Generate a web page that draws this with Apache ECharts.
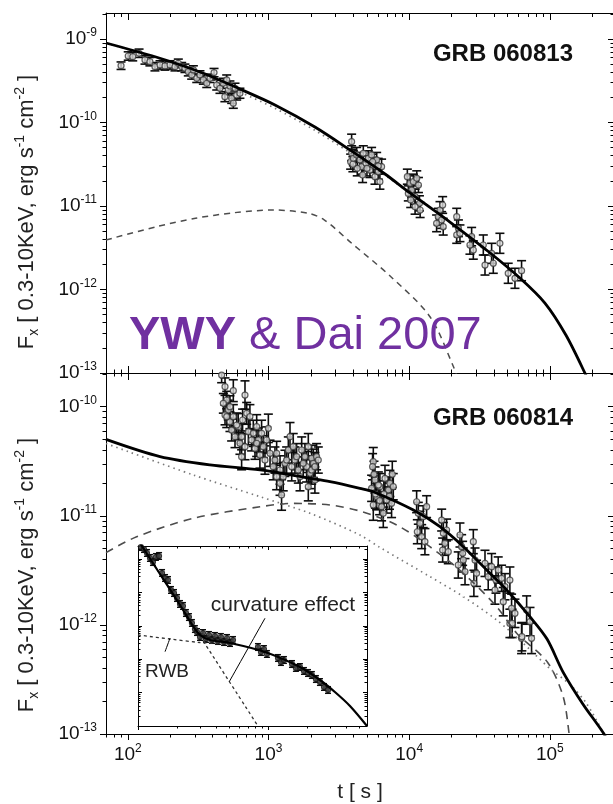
<!DOCTYPE html>
<html>
<head>
<meta charset="utf-8">
<title>GRB 060813 / GRB 060814 X-ray afterglows</title>
<script src="https://cdn.jsdelivr.net/npm/echarts@6/dist/echarts.min.js"></script>
<style>
  html, body { margin: 0; padding: 0; background: #fff; }
  #chart { width: 613px; height: 804px; }
</style>
</head>
<body>
<div id="chart"></div>
<script>
// All values are log10: time in s, flux in erg s^-1 cm^-2, error bar half-widths in dex.

// ---- axis ranges and tick labels (log10) ----
const timeRange = [1.845, 5.456];
const fluxRangeTop = [-13, -8.689];
const fluxRangeBottom = [-13, -9.691];
const timeTickExps = [2, 3, 4, 5];
const fluxTickExpsTop = [-13, -12, -11, -10, -9];
const fluxTickExpsBottom = [-13, -12, -11, -10];

// ---- GRB 060813 XRT data ----
const grb813LogT = [
  1.952, 2.003, 2.035, 2.080, 2.122, 2.157, 2.193, 2.229, 2.264, 2.300, 2.335, 2.359, 2.383, 2.406, 2.430,
  2.454, 2.466, 2.490, 2.513, 2.537, 2.561, 2.584, 2.613, 2.632, 2.655, 2.679, 2.703, 2.714, 2.690, 2.738,
  2.750, 2.774, 2.797, 2.762, 2.726,
  3.591, 3.591, 3.584, 3.603, 3.627, 3.650, 3.662, 3.674, 3.693, 3.709, 3.721, 3.733, 3.745, 3.757, 3.769,
  3.781, 3.792, 3.804, 3.669, 3.631, 3.600, 3.700, 3.740, 3.780,
  3.987, 4.006, 4.018, 3.994, 4.030, 4.042, 4.054, 4.066, 4.073, 4.078, 4.011, 4.042,
  4.219, 4.207, 4.231, 4.242, 4.195, 4.238,
  4.338, 4.350, 4.338, 4.361,
  4.444, 4.456, 4.432,
  4.527, 4.539, 4.586, 4.598, 4.645,
  4.704, 4.752, 4.799
];
const grb813LogF = [
  -9.320, -9.204, -9.212, -9.171, -9.251, -9.272, -9.332, -9.311, -9.323, -9.311, -9.332, -9.291, -9.332, -9.351, -9.392,
  -9.431, -9.371, -9.471, -9.431, -9.491, -9.531, -9.471, -9.403, -9.551, -9.591, -9.531, -9.491, -9.611, -9.691, -9.711,
  -9.770, -9.671, -9.650, -9.590, -9.563,
  -10.230, -10.369, -10.469, -10.429, -10.389, -10.449, -10.529, -10.369, -10.489, -10.429, -10.569, -10.389, -10.509, -10.649, -10.449,
  -10.589, -10.709, -10.529, -10.629, -10.549, -10.500, -10.550, -10.470, -10.520,
  -10.649, -10.729, -10.809, -10.849, -10.709, -10.889, -10.669, -10.749, -10.968, -11.048, -10.928, -11.008,
  -11.048, -11.128, -11.168, -11.248, -11.208, -10.988,
  -11.128, -11.267, -11.347, -11.327,
  -11.367, -11.527, -11.467,
  -11.467, -11.707, -11.567, -11.686, -11.447,
  -11.806, -11.866, -11.775
];
const grb813Err = [
  0.045, 0.05, 0.05, 0.05, 0.05, 0.05, 0.05, 0.05, 0.05, 0.05, 0.05, 0.05, 0.05, 0.05, 0.05,
  0.05, 0.05, 0.05, 0.05, 0.05, 0.05, 0.05, 0.05, 0.06, 0.06, 0.06, 0.06, 0.06, 0.06, 0.06,
  0.06, 0.06, 0.06, 0.06, 0.06,
  0.09, 0.09, 0.09, 0.09, 0.09, 0.09, 0.09, 0.09, 0.09, 0.09, 0.09, 0.09, 0.09, 0.09, 0.09,
  0.09, 0.09, 0.09, 0.09, 0.09, 0.09, 0.09, 0.09, 0.09,
  0.09, 0.09, 0.09, 0.09, 0.09, 0.09, 0.09, 0.09, 0.09, 0.09, 0.09, 0.09,
  0.10, 0.10, 0.10, 0.10, 0.10, 0.10,
  0.10, 0.10, 0.10, 0.10,
  0.11, 0.11, 0.11,
  0.12, 0.12, 0.12, 0.12, 0.12,
  0.12, 0.12, 0.12
];

// ---- GRB 060813 model curves ----
const fit813LogT = [1.845, 2.200, 2.513, 2.797, 3.046, 3.330, 3.579, 3.828, 4.006, 4.290, 4.567, 4.787, 4.965, 5.114, 5.249, 5.300];
const fit813Total = [-9.048, -9.216, -9.395, -9.599, -9.790, -10.054, -10.329, -10.617, -10.844, -11.192, -11.551, -11.862, -12.162, -12.545, -13.0, -13.2];
const fit813Forward = [-9.050, -9.224, -9.410, -9.635, -9.830, -10.095, -10.360, -10.632, -10.850, -11.194, -11.552, -11.862, -12.162, -12.545, -13.0, -13.2];
const fit813ReverseT = [1.845, 2.204, 2.481, 2.759, 3.037, 3.286, 3.398, 3.592, 3.870, 4.148, 4.315, 4.350];
const fit813Reverse = [-11.407, -11.248, -11.147, -11.080, -11.048, -11.088, -11.168, -11.447, -11.847, -12.326, -12.925, -13.1];

// ---- GRB 060814 XRT data ----
const grb814LogT = [
  2.667, 2.691, 2.703, 2.714, 2.691, 2.750, 2.726, 2.738, 2.762, 2.785, 2.797, 2.809, 2.833, 2.845, 2.857,
  2.880, 2.904, 2.928, 2.939, 2.963, 2.999, 3.011, 3.034, 3.058, 3.082, 3.093, 3.117, 3.141, 3.153, 3.176,
  3.188, 3.212, 3.224, 3.236, 3.259, 3.271, 3.283, 3.295, 3.307, 3.319, 3.330, 3.342, 3.058, 2.816, 2.916,
  2.679, 2.703, 2.726, 2.750, 2.774, 2.809, 2.833, 2.868, 2.892, 2.916, 2.951, 2.975, 2.987, 3.046, 3.082,
  3.105, 3.129, 3.165, 3.200, 3.247, 3.283, 3.307, 3.330, 3.354,
  3.745, 3.740, 3.757, 3.733, 3.745, 3.769, 3.792, 3.804, 3.816, 3.828, 3.852, 3.863, 3.875, 3.887, 3.840, 3.781,
  3.750, 3.760, 3.790, 3.820, 3.860, 3.880,
  4.053, 4.065, 4.077, 4.089, 4.100, 4.112, 4.058, 4.124,
  4.231, 4.243, 4.254, 4.266, 4.278, 4.238,
  4.361, 4.373, 4.385, 4.349, 4.397, 4.380,
  4.456, 4.468, 4.479, 4.460,
  4.539, 4.562, 4.586, 4.610, 4.633, 4.657, 4.669, 4.716, 4.617, 4.681,
  4.728, 4.752, 4.716, 4.799, 4.835, 4.859, 4.870, 4.732, 4.801
];
const grb814LogF = [
  -9.710, -9.816, -9.939, -10.030, -10.076, -9.853, -10.137, -10.214, -10.275, -10.183, -10.336, -10.458, -9.893, -10.061, -10.229,
  -10.305, -10.382, -10.305, -10.443, -10.366, -10.198, -10.427, -10.550, -10.641, -10.702, -10.809, -10.519, -10.397, -10.275, -10.366,
  -10.489, -10.580, -10.641, -10.397, -10.458, -10.550, -10.733, -10.611, -10.473, -10.519, -10.672, -10.458, -10.427, -10.122, -10.183,
  -9.969, -10.091, -10.000, -10.091, -10.168, -10.275, -10.366, -10.091, -10.244, -10.336, -10.244, -10.489, -10.305, -10.489, -10.580,
  -10.641, -10.489, -10.550, -10.458, -10.519, -10.366, -10.580, -10.550, -10.489,
  -10.504, -10.550, -10.672, -10.748, -10.901, -10.825, -10.733, -10.916, -10.977, -10.657, -10.764, -10.703, -10.886, -10.733, -10.855, -10.718,
  -10.620, -10.800, -10.860, -10.800, -10.820, -10.620,
  -10.871, -10.977, -11.069, -11.191, -11.008, -11.237, -11.146, -10.916,
  -11.039, -11.161, -11.252, -11.130, -11.329, -11.314,
  -11.176, -11.283, -11.405, -11.451, -11.512, -11.344,
  -11.237, -11.405, -11.527, -11.619,
  -11.436, -11.558, -11.466, -11.680, -11.497, -11.573, -11.787, -11.589, -11.589, -11.650,
  -11.848, -11.894, -11.986, -12.123, -11.864, -11.970, -12.123, -11.986, -12.108
];
const grb814Err = [
  0.07, 0.08, 0.08, 0.09, 0.09, 0.10, 0.09, 0.10, 0.10, 0.12, 0.10, 0.12, 0.13, 0.10, 0.12,
  0.10, 0.10, 0.11, 0.12, 0.10, 0.13, 0.12, 0.12, 0.12, 0.11, 0.14, 0.12, 0.12, 0.13, 0.12,
  0.12, 0.12, 0.13, 0.12, 0.12, 0.14, 0.13, 0.14, 0.12, 0.13, 0.12, 0.12, 0.11, 0.10, 0.11,
  0.09, 0.10, 0.10, 0.11, 0.11, 0.12, 0.12, 0.11, 0.12, 0.12, 0.12, 0.13, 0.12, 0.12, 0.13,
  0.13, 0.12, 0.13, 0.12, 0.13, 0.12, 0.13, 0.13, 0.12,
  0.13, 0.12, 0.12, 0.12, 0.14, 0.12, 0.12, 0.13, 0.13, 0.12, 0.12, 0.12, 0.13, 0.12, 0.12, 0.12,
  0.12, 0.13, 0.13, 0.12, 0.12, 0.12,
  0.10, 0.10, 0.11, 0.11, 0.10, 0.12, 0.11, 0.10,
  0.10, 0.10, 0.11, 0.10, 0.11, 0.11,
  0.11, 0.11, 0.11, 0.12, 0.12, 0.11,
  0.11, 0.11, 0.12, 0.12,
  0.12, 0.12, 0.12, 0.13, 0.12, 0.12, 0.13, 0.12, 0.12, 0.12,
  0.13, 0.13, 0.13, 0.14, 0.13, 0.13, 0.14, 0.13, 0.13
];

// ---- GRB 060814 model curves ----
const fit814TotalT = [1.845, 2.229, 2.584, 2.940, 3.295, 3.437, 3.650, 3.745, 4.030, 4.219, 4.385, 4.551, 4.693, 4.858, 4.980, 5.093, 5.232, 5.385, 5.420];
const fit814Total = [-10.300, -10.458, -10.534, -10.580, -10.656, -10.687, -10.748, -10.779, -10.947, -11.100, -11.283, -11.497, -11.680, -11.925, -12.130, -12.430, -12.720, -13.0, -13.1];
const fit814ForwardT = [1.845, 2.466, 2.940, 3.295, 3.650, 3.792, 4.147, 4.385, 4.622, 4.811, 5.000, 5.146, 5.260, 5.385, 5.420];
const fit814Forward = [-10.337, -10.626, -10.825, -10.977, -11.176, -11.290, -11.557, -11.741, -11.955, -12.169, -12.400, -12.550, -12.720, -13.0, -13.1];
const fit814ReverseT = [1.845, 2.063, 2.466, 2.940, 3.176, 3.437, 3.660, 3.911, 4.147, 4.385, 4.622, 4.764, 4.982, 5.093, 5.137, 5.150];
const fit814Reverse = [-11.337, -11.192, -11.023, -10.917, -10.886, -10.901, -10.960, -11.084, -11.283, -11.527, -11.833, -12.076, -12.340, -12.650, -13.0, -13.2];

// ---- inset: early GRB 060814 light curve (log10 t, log10 count rate) ----
const insetRangeT = [2.0, 3.762];
const insetRangeR = [-2.0, 3.389];
const insetLogT = [
  2.023, 2.046, 2.069, 2.092, 2.115, 2.138, 2.162, 2.185, 2.208, 2.231, 2.254, 2.277, 2.300, 2.323, 2.346,
  2.369, 2.392, 2.415, 2.438,
  2.454, 2.477, 2.500, 2.523, 2.546, 2.569, 2.592, 2.615, 2.638, 2.662, 2.685, 2.708, 2.731,
  2.923, 2.946, 2.969, 2.992, 3.077, 3.100, 3.123,
  3.185, 3.215, 3.246, 3.277, 3.308, 3.338, 3.369, 3.400, 3.431, 3.462
];
const insetLogR = [
  3.359, 3.299, 3.180, 3.030, 2.910, 3.060, 3.090, 2.581, 2.431, 2.371, 2.072, 1.982, 1.832, 1.653, 1.593,
  1.383, 1.263, 1.084, 0.904,
  0.814, 0.665, 0.784, 0.605, 0.725, 0.575, 0.695, 0.545, 0.665, 0.515, 0.635, 0.485, 0.575,
  0.365, 0.216, 0.305, 0.156, 0.036, -0.084, -0.024,
  -0.144, -0.263, -0.234, -0.353, -0.413, -0.473, -0.593, -0.683, -0.832, -0.922
];
const insetErr = 0.1;
const insetTotalT = [2.000, 2.169, 2.323, 2.423, 2.477, 2.554, 2.708, 2.977, 3.246, 3.400, 3.515, 3.631, 3.762];
const insetTotal = [3.569, 2.551, 1.623, 0.994, 0.725, 0.575, 0.485, 0.216, -0.234, -0.623, -0.982, -1.401, -2.0];
const insetCurvatureT = [2.000, 2.923];
const insetCurvature = [3.569, -2.0];
const insetRwbT = [2.000, 2.246, 2.477, 2.708];
const insetRwb = [0.725, 0.605, 0.500, 0.450];
const curvaturePointer = [[2.977, 1.225], [2.702, -0.674]];
const rwbPointer = [[2.246, 0.626], [2.208, 0.225]];

// ---------------------------------------------------------------
const FONT = "'Liberation Sans', Arial, Helvetica, sans-serif";
const INK = '#111';

function decadeMinors(range) {
  const out = [];
  for (let n = Math.floor(range[0]) - 1; n <= Math.ceil(range[1]); n++) {
    for (let k = 2; k <= 9; k++) {
      const v = n + Math.log10(k);
      if (v > range[0] && v < range[1]) out.push(v);
    }
  }
  return out;
}
function decadeMajors(range) {
  const out = [];
  for (let n = Math.ceil(range[0]); n <= Math.floor(range[1]); n++) out.push(n);
  return out;
}

function powerLabel(margin) {
  return {
    margin: margin,
    color: INK,
    fontFamily: FONT,
    showMinLabel: true,
    showMaxLabel: true,
    formatter: function (v) { return '{m|10}{e|' + Math.round(v) + '}'; },
    rich: {
      m: { fontSize: 19, lineHeight: 24, fontFamily: FONT, color: INK },
      e: { fontSize: 12, lineHeight: 12, verticalAlign: 'top', fontFamily: FONT, color: INK }
    }
  };
}

function tickAxis(grid, pos, range, values, len, inside, showLine, label, labelValues) {
  const ax = {
    type: 'value', gridIndex: grid, position: pos, min: range[0], max: range[1],
    axisLine: { show: showLine, onZero: false, lineStyle: { color: '#000', width: 1 } },
    axisTick: { show: values.length > 0, inside: inside, length: len, customValues: values,
                lineStyle: { color: '#000', width: 1 } },
    axisLabel: { show: false },
    splitLine: { show: false },
    minorTick: { show: false },
    minorSplitLine: { show: false },
    axisPointer: { show: false }
  };
  if (label) ax.axisLabel = Object.assign({ show: true, customValues: labelValues }, label);
  return ax;
}

const xAxes = [];
const yAxes = [];
function panelAxes(g, xr, yr, o) {
  const xMaj = o.xMajors || decadeMajors(xr);
  const yMaj = o.yMajors || decadeMajors(yr);
  const xMin = decadeMinors(xr);
  const yMin = decadeMinors(yr);
  const xi = xAxes.length;
  xAxes.push(tickAxis(g, 'bottom', xr, xMaj, o.bottom[0], o.bottomInside, true, o.xLabel, xMaj));
  xAxes.push(tickAxis(g, 'bottom', xr, xMin, o.bottom[1], o.bottomInside, false));
  xAxes.push(tickAxis(g, 'top', xr, xMaj, o.top[0], true, true));
  xAxes.push(tickAxis(g, 'top', xr, xMin, o.top[1], true, false));
  const yi = yAxes.length;
  yAxes.push(tickAxis(g, 'left', yr, yMaj, o.left[0], o.leftInside, true, o.yLabel, yMaj));
  yAxes.push(tickAxis(g, 'left', yr, yMin, o.left[1], o.leftInside, false));
  yAxes.push(tickAxis(g, 'right', yr, yMaj, o.right[0], true, true));
  yAxes.push(tickAxis(g, 'right', yr, yMin, o.right[1], true, false));
  return { x: xi, y: yi };
}

const topAx = panelAxes(0, timeRange, fluxRangeTop, {
  xMajors: timeTickExps, yMajors: fluxTickExpsTop,
  bottom: [7, 3.5], bottomInside: true, top: [7, 4],
  left: [6, 3.5], leftInside: false, right: [6, 3.5],
  yLabel: powerLabel(9)
});
const botAx = panelAxes(1, timeRange, fluxRangeBottom, {
  xMajors: timeTickExps, yMajors: fluxTickExpsBottom,
  bottom: [6, 3.5], bottomInside: false, top: [7, 3.5],
  left: [6, 3.5], leftInside: false, right: [6, 3.5],
  xLabel: powerLabel(9), yLabel: powerLabel(9)
});
const insAx = panelAxes(2, insetRangeT, insetRangeR, {
  bottom: [4, 2.5], bottomInside: false, top: [4, 2.5],
  left: [4, 2.5], leftInside: true, right: [4, 2.5]
});

function zip(a, b, c) {
  return a.map(function (v, i) {
    if (c === undefined) return [v, b[i]];
    return [v, b[i], Array.isArray(c) ? c[i] : c];
  });
}

function errorBars(ax, data, cap, width) {
  return {
    type: 'custom', xAxisIndex: ax.x, yAxisIndex: ax.y, clip: true, z: 2, silent: true,
    encode: { x: 0, y: 1 },
    data: data,
    renderItem: function (params, api) {
      const x = api.value(0), y = api.value(1), e = api.value(2);
      const lo = api.coord([x, y - e]);
      const hi = api.coord([x, y + e]);
      const st = { stroke: '#0c0c0c', lineWidth: width };
      return {
        type: 'group',
        children: [
          { type: 'line', shape: { x1: lo[0], y1: lo[1], x2: hi[0], y2: hi[1] }, style: st },
          { type: 'line', shape: { x1: lo[0] - cap, y1: lo[1], x2: lo[0] + cap, y2: lo[1] }, style: st },
          { type: 'line', shape: { x1: hi[0] - cap, y1: hi[1], x2: hi[0] + cap, y2: hi[1] }, style: st }
        ]
      };
    }
  };
}

function points(ax, data, size, fill, stroke) {
  return {
    type: 'scatter', xAxisIndex: ax.x, yAxisIndex: ax.y, z: 3, silent: true,
    symbol: 'circle', symbolSize: size, data: data,
    itemStyle: { color: fill, borderColor: stroke, borderWidth: 1.2 }
  };
}

function curve(ax, data, style, z) {
  return {
    type: 'line', xAxisIndex: ax.x, yAxisIndex: ax.y, z: z || 4, silent: true,
    data: data, showSymbol: false, symbol: 'none', smooth: 0.3,
    lineStyle: style
  };
}

const solid = { color: '#000', width: 2.8, type: 'solid' };
const dotted = { color: '#7a7a7a', width: 1.7, type: [1.5, 4] };
const dashed = { color: '#4d4d4d', width: 1.5, type: [6, 5] };

const series = [
  // GRB 060813
  errorBars(topAx, zip(grb813LogT, grb813LogF, grb813Err), 4.5, 1.6),
  points(topAx, zip(grb813LogT, grb813LogF), 6, '#d9d9d9', '#3a3a3a'),
  curve(topAx, zip(fit813ReverseT, fit813Reverse), dashed),
  curve(topAx, zip(fit813LogT, fit813Forward), dotted),
  curve(topAx, zip(fit813LogT, fit813Total), solid, 5),
  // GRB 060814
  errorBars(botAx, zip(grb814LogT, grb814LogF, grb814Err), 4.5, 1.6),
  points(botAx, zip(grb814LogT, grb814LogF), 6, '#d9d9d9', '#3a3a3a'),
  curve(botAx, zip(fit814ReverseT, fit814Reverse), { color: '#4d4d4d', width: 1.6, type: [8, 6] }),
  curve(botAx, zip(fit814ForwardT, fit814Forward), dotted),
  curve(botAx, zip(fit814TotalT, fit814Total), solid, 5),
  // inset
  errorBars(insAx, zip(insetLogT, insetLogR, insetErr), 3, 1.4),
  points(insAx, zip(insetLogT, insetLogR), 5, '#444', '#111'),
  curve(insAx, zip(insetCurvatureT, insetCurvature), { color: '#333', width: 1.3, type: [3, 3] }),
  curve(insAx, zip(insetRwbT, insetRwb), { color: '#333', width: 1.3, type: [3, 3] }),
  curve(insAx, zip(insetTotalT, insetTotal), { color: '#000', width: 2.2, type: 'solid' }, 5),
  curve(insAx, curvaturePointer, { color: '#000', width: 1, type: 'solid' }, 6),
  curve(insAx, rwbPointer, { color: '#000', width: 1, type: 'solid' }, 6)
];

const titleRich = {
  a: { fontSize: 22, lineHeight: 28, fontFamily: FONT, fill: '#222' },
  sub: { fontSize: 14, lineHeight: 18, verticalAlign: 'bottom', fontFamily: FONT, fill: '#222' },
  sup: { fontSize: 14, lineHeight: 14, verticalAlign: 'top', fontFamily: FONT, fill: '#222' }
};
const fluxTitle = '{a|F}{sub|x}{a| [ 0.3-10KeV, erg s}{sup|-1}{a| cm}{sup|-2}{a| ]}';

const graphics = [
  { type: 'text', x: 27, y: 212, rotation: Math.PI / 2, z: 100,
    style: { text: fluxTitle, rich: titleRich, align: 'center', verticalAlign: 'middle' } },
  { type: 'text', x: 27, y: 575, rotation: Math.PI / 2, z: 100,
    style: { text: fluxTitle, rich: titleRich, align: 'center', verticalAlign: 'middle' } },
  { type: 'text', x: 573, y: 54, z: 100,
    style: { text: 'GRB 060813', fontSize: 24, fontWeight: 'bold', fontFamily: FONT, fill: '#111',
             align: 'right', verticalAlign: 'middle' } },
  { type: 'text', x: 573, y: 418, z: 100,
    style: { text: 'GRB 060814', fontSize: 24, fontWeight: 'bold', fontFamily: FONT, fill: '#111',
             align: 'right', verticalAlign: 'middle' } },
  { type: 'text', x: 129, y: 336, z: 100,
    style: {
      text: '{b|YWY}{r| & Dai 2007}', align: 'left', verticalAlign: 'middle',
      rich: {
        b: { fontSize: 47, fontWeight: 'bold', fontFamily: FONT, fill: '#7030A0' },
        r: { fontSize: 47, fontFamily: FONT, fill: '#7030A0' }
      }
    } },
  { type: 'text', x: 283, y: 605, z: 100,
    style: { text: 'curvature effect', fontSize: 21, fontFamily: FONT, fill: '#222',
             align: 'center', verticalAlign: 'middle' } },
  { type: 'text', x: 145, y: 672, z: 100,
    style: { text: 'RWB', fontSize: 19, fontFamily: FONT, fill: '#222',
             align: 'left', verticalAlign: 'middle' } },
  { type: 'text', x: 360, y: 792, z: 100,
    style: { text: 't [ s ]', fontSize: 21, fontFamily: FONT, fill: '#222',
             align: 'center', verticalAlign: 'middle' } }
];

const option = {
  animation: false,
  backgroundColor: '#fff',
  textStyle: { fontFamily: FONT },
  grid: [
    { left: 106, top: 13, width: 508, height: 360, containLabel: false, outerBoundsMode: 'none' },
    { left: 106, top: 373, width: 508, height: 361, containLabel: false, outerBoundsMode: 'none' },
    { left: 138, top: 546, width: 229, height: 180, containLabel: false, outerBoundsMode: 'none',
      show: true, backgroundColor: '#fff', borderWidth: 0 }
  ],
  xAxis: xAxes,
  yAxis: yAxes,
  series: series,
  graphic: { elements: graphics }
};

const chart = echarts.init(document.getElementById('chart'), null, { renderer: 'canvas' });
chart.setOption(option);
</script>
</body>
</html>
